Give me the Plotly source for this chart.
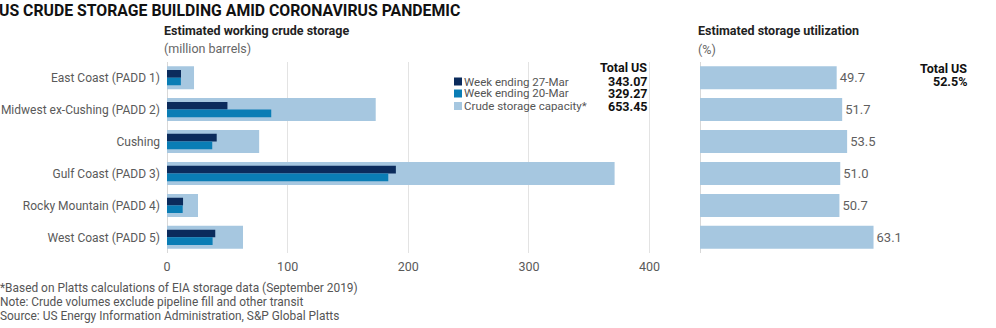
import plotly.graph_objects as go

regions = ["East Coast (PADD 1)", "Midwest ex-Cushing (PADD 2)", "Cushing",
           "Gulf Coast (PADD 3)", "Rocky Mountain (PADD 4)", "West Coast (PADD 5)"]
week_27mar = [11.6, 50.1, 41.2, 189.7, 13.3, 40.0]
week_20mar = [11.5, 86.4, 37.5, 183.4, 13.0, 37.8]
capacity = [22.4, 173.0, 76.4, 371.0, 25.7, 63.0]
utilization = [49.7, 51.7, 53.5, 51.0, 50.7, 63.1]
x_ticks = [0, 100, 200, 300, 400]
legend_names = ["Week ending 27-Mar", "Week ending 20-Mar", "Crude storage capacity*"]
legend_totals = ["343.07", "329.27", "653.45"]
total_util = "52.5%"

C_DARK = "#0b2b5c"
C_MID = "#0a7db5"
C_LIGHT = "#a6c7e0"
FONT = "Roboto"
W, H = 996, 328

fig = go.Figure()
fig.add_trace(go.Bar(y=regions, x=capacity, orientation="h", marker_color=C_LIGHT,
                     width=0.72, offset=-0.36, name=legend_names[2], xaxis="x", yaxis="y"))
fig.add_trace(go.Bar(y=regions, x=week_27mar, orientation="h", marker_color=C_DARK,
                     width=0.24, offset=-0.24, name=legend_names[0], xaxis="x", yaxis="y"))
fig.add_trace(go.Bar(y=regions, x=week_20mar, orientation="h", marker_color=C_MID,
                     width=0.24, offset=0.0, name=legend_names[1], xaxis="x", yaxis="y"))
fig.add_trace(go.Bar(y=regions, x=utilization, orientation="h", marker_color=C_LIGHT,
                     width=0.72, offset=-0.36, xaxis="x2", yaxis="y2",
                     text=[f"{v:.1f}" for v in utilization], textposition="outside",
                     textfont=dict(family=FONT, size=13, color="#5f5f5f"),
                     cliponaxis=False))

for tr in fig.data:
    tr.marker.line.width = 0
    tr.showlegend = False
    tr.hoverinfo = "x+y"

y_dom = [1 - 253.3 / H, 1 - 61.7 / H]
fig.update_layout(
    width=W, height=H, margin=dict(l=0, r=0, t=0, b=0),
    paper_bgcolor="white", plot_bgcolor="white", template="none",
    barmode="overlay", showlegend=False,
    font=dict(family=FONT, size=12, color="#5a5a5a"),
    xaxis=dict(domain=[167 / W, 652 / W], range=[0, 402], tickvals=x_ticks,
               showgrid=True, gridcolor="#e3e3e3", gridwidth=1, zeroline=True,
               zerolinecolor="#d8d8d8", zerolinewidth=1, showline=False, ticks="",
               tickfont=dict(family=FONT, size=12.5, color="#5a5a5a"), ticklen=0,
               ticklabelstandoff=4, automargin=False, fixedrange=True),
    yaxis=dict(domain=y_dom, autorange="reversed", type="category", showgrid=False,
               zeroline=False, showline=False, ticks="", ticklabelstandoff=6,
               tickfont=dict(family=FONT, size=12, color="#5a5a5a"),
               automargin=False, fixedrange=True),
    xaxis2=dict(domain=[700 / W, 975 / W], range=[0, 100], showgrid=False,
                showticklabels=False, zeroline=True, zerolinecolor="#d8d8d8",
                zerolinewidth=1, showline=False, ticks="", anchor="y2",
                automargin=False, fixedrange=True),
    yaxis2=dict(domain=y_dom, autorange="reversed", type="category", showgrid=False,
                showticklabels=False, zeroline=False, showline=False, ticks="",
                anchor="x2", automargin=False, fixedrange=True),
)

def px(x, y):
    return x / W, 1 - y / H

annotations = []
def add_text(x, y, text, size=12, color="#5a5a5a", bold=False, xanchor="left"):
    ax, ay = px(x, y)
    annotations.append(dict(x=ax, y=ay, xref="paper", yref="paper", showarrow=False,
                            text=f"<b>{text}</b>" if bold else text, xanchor=xanchor,
                            yanchor="middle", borderpad=0,
                            font=dict(family=FONT, size=size, color=color)))

add_text(-2, 10, "US CRUDE STORAGE BUILDING AMID CORONAVIRUS PANDEMIC", size=15.8, color="#111111", bold=True)
add_text(163, 31, "Estimated working crude storage", size=12.5, color="#222222", bold=True)
add_text(163, 48, "(million barrels)", size=12.5, color="#666666")
add_text(697, 31, "Estimated storage utilization", size=12.5, color="#222222", bold=True)
add_text(697, 49, "(%)", size=12.5, color="#666666")

# Legend (manual) with totals
add_text(648, 67.5, "Total US", size=12.5, color="#111111", bold=True, xanchor="right")
leg_colors = [C_DARK, C_MID, C_LIGHT]
leg_y = [81.5, 93.5, 106]
shapes = []
for name, tot, col, yy in zip(legend_names, legend_totals, leg_colors, leg_y):
    x0, y0 = px(454, yy - 4)
    x1, y1 = px(462, yy + 4)
    shapes.append(dict(type="rect", xref="paper", yref="paper", x0=x0, x1=x1, y0=y1, y1=y0,
                       fillcolor=col, line=dict(width=0)))
    add_text(463, yy, name, size=11.5, color="#555555")
    add_text(648, yy, tot, size=12.5, color="#111111", bold=True, xanchor="right")

add_text(968, 68.5, "Total US", size=12.5, color="#111111", bold=True, xanchor="right")
add_text(968, 81.5, total_util, size=12.5, color="#111111", bold=True, xanchor="right")

add_text(-1, 287.5, "*Based on Platts calculations of EIA storage data (September 2019)", size=11.9, color="#555555")
add_text(-1, 301.5, "Note: Crude volumes exclude pipeline fill and other transit", size=11.9, color="#555555")
add_text(-1, 316, "Source: US Energy Information Administration, S&amp;P Global Platts", size=11.9, color="#555555")

fig.update_layout(annotations=annotations, shapes=shapes)
fig.write_html("out.html")
